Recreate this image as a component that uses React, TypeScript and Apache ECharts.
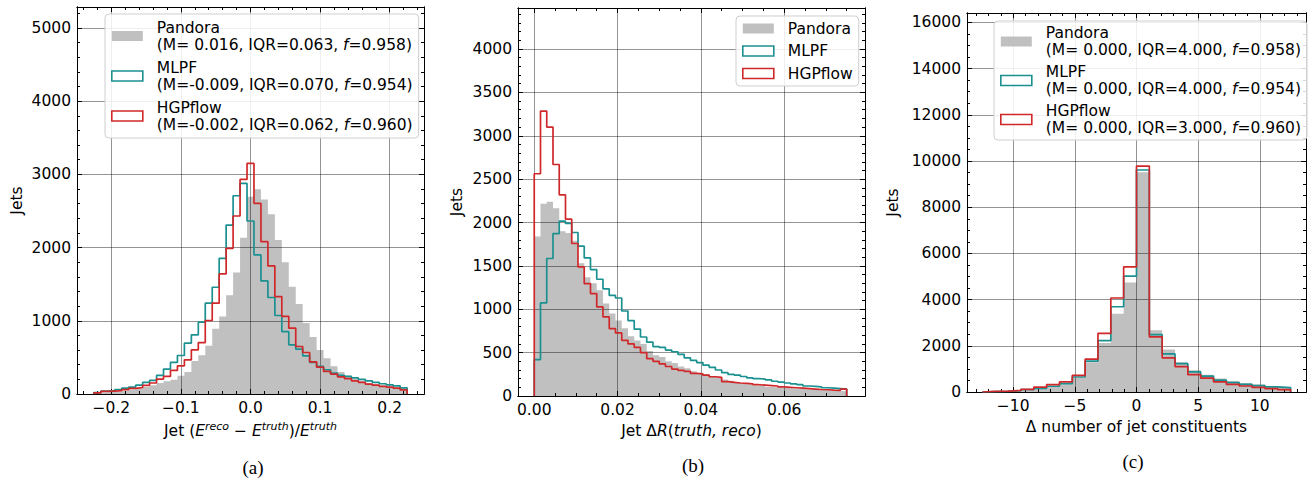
import React, { useEffect, useRef } from "react";
import * as echarts from "echarts";

const FONT = "'DejaVu Sans', sans-serif";
const SERIF = "'Liberation Serif', 'DejaVu Serif', serif";
const GRAY = "#c0c0c0";
const TEAL = "#1b9090";
const RED = "#d0282a";
const FS = 15.5;

// ---------- Panel (a): (E_reco - E_truth)/E_truth, 45 bins of 0.01 from -0.225 ----------
const binStartA = -0.225;
const binWidthA = 0.01;
const pandoraA = [
  20, 25, 30, 35, 45, 60, 70, 95, 120, 150, 175, 195, 250, 300, 450, 530, 660, 890, 1060, 1350, 1660, 2135,
  2695,
  2795, 2655, 2455, 2105, 1800, 1465, 1230, 970, 780, 600, 490, 380, 300, 250, 210, 180, 150, 130, 115, 100, 90, 75,
];
const mlpfA = [
  20, 40, 45, 60, 80, 95, 120, 158, 186, 254, 340, 431, 526, 694, 808, 981, 1240, 1458, 1853, 2308, 2708, 2876,
  2363,
  1900, 1545, 1318, 1072, 853, 672, 613, 522, 431, 376, 331, 285, 255, 240, 220, 200, 180, 160, 140, 125, 110, 85,
];
const hgpA = [
  15, 35, 40, 45, 60, 77, 86, 118, 150, 204, 240, 322, 385, 467, 603, 703, 1004, 1240, 1640, 1990, 2431, 2931,
  3150,
  2604, 2081, 1749, 1331, 1059, 899, 649, 567, 440, 367, 308, 272, 235, 210, 180, 160, 135, 120, 105, 95, 80, 55,
];
const xTicksA = [-0.2, -0.1, 0, 0.1, 0.2];
const yTicksA = [0, 1000, 2000, 3000, 4000, 5000];

// ---------- Panel (b): jet Delta R, 50 bins of 0.0015 from 0 ----------
const binStartB = 0;
const binWidthB = 0.0015;
const pandoraB = [
  1840, 2215, 2240, 2165, 1900, 1880, 1790, 1530, 1370, 1300, 1220, 1065, 950, 870, 780, 690, 640, 600, 520, 470,
  450, 400, 380, 340, 320, 285, 265, 250, 230, 215, 190, 175, 160, 145, 135, 120, 115, 105, 100, 95,
  90, 85, 80, 75, 72, 70, 65, 60, 58, 55,
];
const mlpfB = [
  420, 1073, 1585, 1873, 2015, 1990, 1885, 1727, 1592, 1458, 1346, 1235, 1160, 1130, 980, 870, 770, 680, 620, 570,
  560, 530, 510, 480, 440, 410, 385, 355, 330, 300, 270, 250, 240, 225, 210, 200, 195, 185, 170, 160,
  150, 140, 130, 115, 110, 105, 95, 90, 85, 80,
];
const hgpB = [
  2562, 3285, 3100, 2669, 2319, 2038, 1758, 1488, 1296, 1181, 1027, 912, 777, 727, 642, 600, 560, 500, 430, 400,
  370, 340, 310, 295, 285, 260, 255, 240, 222, 215, 165, 158, 150, 145, 140, 130, 125, 120, 115, 105,
  100, 95, 90, 85, 80, 75, 72, 68, 65, 80,
];
const xTicksB = [0, 0.02, 0.04, 0.06];
const yTicksB = [0, 500, 1000, 1500, 2000, 2500, 3000, 3500, 4000];

// ---------- Panel (c): Delta number of constituents, 24 bins from -12.5 to 12.5 ----------
const binStartC = -12.5;
const binWidthC = 25 / 24;
const pandoraC = [15, 20, 45, 75, 130, 220, 335, 620, 1290, 2120, 3390, 4740, 9510, 2670, 1840, 1290, 940, 750, 580, 480, 390, 320, 260, 215];
const mlpfC = [15, 30, 55, 100, 160, 250, 360, 650, 1340, 2220, 3690, 5020, 9610, 2480, 1650, 1230, 870, 690, 510, 410, 330, 280, 220, 190];
const hgpC = [25, 40, 70, 115, 215, 320, 435, 720, 1420, 2540, 4070, 5420, 9780, 2390, 1480, 1100, 750, 600, 440, 330, 260, 200, 150, 100];
const xTicksC = [-10, -5, 0, 5, 10];
const yTicksC = [0, 2000, 4000, 6000, 8000, 10000, 12000, 14000, 16000];

const legendTextA: Record<string, string> = {
  "Pandora (a)": "Pandora\n(M= 0.016, IQR=0.063, {i|f}=0.958)",
  "MLPF (a)": "MLPF\n(M=-0.009, IQR=0.070, {i|f}=0.954)",
  "HGPflow (a)": "HGPflow\n(M=-0.002, IQR=0.062, {i|f}=0.960)",
};
const legendTextB: Record<string, string> = {
  "Pandora (b)": "Pandora",
  "MLPF (b)": "MLPF",
  "HGPflow (b)": "HGPflow",
};
const legendTextC: Record<string, string> = {
  "Pandora (c)": "Pandora\n(M= 0.000, IQR=4.000, {i|f}=0.958)",
  "MLPF (c)": "MLPF\n(M= 0.000, IQR=4.000, {i|f}=0.954)",
  "HGPflow (c)": "HGPflow\n(M= 0.000, IQR=3.000, {i|f}=0.960)",
};

function tickRange(from: number, to: number, step: number): number[] {
  const out: number[] = [];
  const n = Math.round((to - from) / step);
  for (let i = 0; i <= n; i++) out.push(+(from + i * step).toFixed(6));
  return out;
}

function stepPoints(start: number, width: number, vals: number[]): number[][] {
  const pts: number[][] = [[start, 0]];
  vals.forEach((v, i) => {
    const x0 = start + i * width;
    pts.push([x0, v], [x0 + width, v]);
  });
  pts.push([start + vals.length * width, 0]);
  return pts;
}

const minus = (s: string) => s.replace("-", "\u2212");

const nameRich = {
  n: { fontFamily: FONT, fontSize: FS, color: "#000" },
  i: { fontFamily: FONT, fontSize: FS, fontStyle: "italic", color: "#000" },
  s: { fontFamily: FONT, fontSize: 11, fontStyle: "italic", color: "#000", padding: [0, 0, 9, 0] },
};

function makeAxes(
  dim: "x" | "y",
  gridIndex: number,
  min: number,
  max: number,
  majors: number[],
  minors: number[],
  fmt: (v: number) => string,
  name?: string,
  nameGap?: number
) {
  const sides = dim === "x" ? ["bottom", "top"] : ["left", "right"];
  const base = (pos: string, vals: number[], len: number, main: boolean) => {
    const ax: any = {
      type: "value",
      gridIndex,
      position: pos,
      min,
      max,
      z: 1,
      axisLine: { show: true, onZero: false, lineStyle: { color: "#000", width: 1 } },
      axisTick: { show: true, inside: true, length: len, customValues: vals, lineStyle: { color: "#000", width: 1 } },
      axisLabel: main
        ? { show: true, customValues: majors, formatter: fmt, margin: 6, color: "#000", fontSize: FS, fontFamily: FONT }
        : { show: false },
      splitLine: { show: main, lineStyle: { color: "rgba(0,0,0,0.42)", width: 1 } },
      minorTick: { show: false },
      minorSplitLine: { show: false },
    };
    if (main && name) {
      ax.name = name;
      ax.nameLocation = "middle";
      ax.nameGap = nameGap;
      ax.nameTextStyle = { fontFamily: FONT, fontSize: FS, color: "#000", rich: nameRich };
    }
    return ax;
  };
  return [
    base(sides[0], majors, 5, true),
    base(sides[0], minors, 3, false),
    base(sides[1], majors, 5, false),
    base(sides[1], minors, 3, false),
  ];
}

function hist(name: string, g: number, start: number, width: number, vals: number[], color: string, fill: boolean) {
  const s: any = {
    type: "line",
    name,
    xAxisIndex: 4 * g,
    yAxisIndex: 4 * g,
    data: stepPoints(start, width, vals),
    symbol: "none",
    showSymbol: false,
    silent: true,
    clip: true,
    z: fill ? 0 : 3,
    itemStyle: { color },
    lineStyle: { color, width: fill ? 0 : 1.7 },
  };
  if (fill) s.areaStyle = { color, opacity: 1 };
  return s;
}

function legend(left: number, top: number, g: string, labels: Record<string, string>, itemGap: number, pad: number) {
  return {
    show: true,
    orient: "vertical",
    left,
    top,
    itemWidth: 31,
    itemHeight: 10,
    itemGap,
    padding: [pad, 6, pad, 6],
    selectedMode: false,
    backgroundColor: "rgba(255,255,255,0.85)",
    borderColor: "#cfcfcf",
    borderWidth: 1,
    borderRadius: 4,
    z: 10,
    formatter: (n: string) => labels[n],
    textStyle: {
      fontFamily: FONT,
      fontSize: FS,
      color: "#000",
      lineHeight: 17,
      padding: [0, 0, 0, 9],
      rich: { i: { fontFamily: FONT, fontSize: FS, fontStyle: "italic", color: "#000", lineHeight: 17 } },
    },
    data: [
      { name: `Pandora (${g})`, icon: "rect", itemStyle: { color: GRAY, borderWidth: 0 } },
      { name: `MLPF (${g})`, icon: "rect", itemStyle: { color: "#fff", borderColor: TEAL, borderWidth: 1.6 } },
      { name: `HGPflow (${g})`, icon: "rect", itemStyle: { color: "#fff", borderColor: RED, borderWidth: 1.6 } },
    ],
  };
}

const fmtA = (v: number) => minus(v.toFixed(1));
const fmtB = (v: number) => v.toFixed(2);
const fmtC = (v: number) => minus(String(v));
const fmtY = (v: number) => String(v);

const option: any = {
  animation: false,
  grid: [
    { left: 77, top: 7, width: 347, height: 387, outerBoundsMode: "none" },
    { left: 518, top: 8, width: 347, height: 388, outerBoundsMode: "none" },
    { left: 967, top: 13, width: 339, height: 379, outerBoundsMode: "none" },
  ],
  xAxis: [
    ...makeAxes("x", 0, -0.2493, 0.2493, xTicksA, tickRange(-0.24, 0.24, 0.02), fmtA,
      "{n|Jet (}{i|E}{s|reco}{n| \u2212 }{i|E}{s|truth}{n|)/}{i|E}{s|truth}", 25),
    ...makeAxes("x", 1, -0.0039, 0.0794, xTicksB, tickRange(0, 0.075, 0.005), fmtB,
      "{n|Jet \u0394}{i|R}{n|(}{i|truth,}{n| }{i|reco}{n|)}", 25),
    ...makeAxes("x", 2, -13.75, 13.75, xTicksC, tickRange(-13, 13, 1), fmtC,
      "{n|\u0394 number of jet constituents}", 24),
  ],
  yAxis: [
    ...makeAxes("y", 0, 0, 5286, yTicksA, tickRange(0, 5200, 200), fmtY, "{n|Jets}", 52),
    ...makeAxes("y", 1, 0, 4473, yTicksB, tickRange(0, 4400, 100), fmtY, "{n|Jets}", 53),
    ...makeAxes("y", 2, 0, 16407, yTicksC, tickRange(0, 16000, 500), fmtY, "{n|Jets}", 66),
  ],
  legend: [
    legend(105, 14, "a", legendTextA, 6, 5),
    legend(736, 16, "b", legendTextB, 5.5, 4),
    legend(994, 21, "c", legendTextC, 5, 3.5),
  ],
  series: [
    hist("Pandora (a)", 0, binStartA, binWidthA, pandoraA, GRAY, true),
    hist("MLPF (a)", 0, binStartA, binWidthA, mlpfA, TEAL, false),
    hist("HGPflow (a)", 0, binStartA, binWidthA, hgpA, RED, false),
    hist("Pandora (b)", 1, binStartB, binWidthB, pandoraB, GRAY, true),
    hist("MLPF (b)", 1, binStartB, binWidthB, mlpfB, TEAL, false),
    hist("HGPflow (b)", 1, binStartB, binWidthB, hgpB, RED, false),
    hist("Pandora (c)", 2, binStartC, binWidthC, pandoraC, GRAY, true),
    hist("MLPF (c)", 2, binStartC, binWidthC, mlpfC, TEAL, false),
    hist("HGPflow (c)", 2, binStartC, binWidthC, hgpC, RED, false),
  ],
  graphic: [
    { type: "text", x: 253, y: 467, style: { text: "(a)", fontSize: 19, fontFamily: SERIF, fill: "#000", align: "center", verticalAlign: "middle" } },
    { type: "text", x: 693, y: 465, style: { text: "(b)", fontSize: 19, fontFamily: SERIF, fill: "#000", align: "center", verticalAlign: "middle" } },
    { type: "text", x: 1133, y: 461, style: { text: "(c)", fontSize: 19, fontFamily: SERIF, fill: "#000", align: "center", verticalAlign: "middle" } },
  ],
};

export default function App() {
  const ref = useRef<HTMLDivElement>(null);
  useEffect(() => {
    const chart = echarts.init(ref.current as HTMLDivElement, null, { renderer: "svg" });
    chart.setOption(option);
    return () => chart.dispose();
  }, []);
  return <div ref={ref} style={{ position: "absolute", left: 0, top: 0, width: 1316, height: 482 }} />;
}
